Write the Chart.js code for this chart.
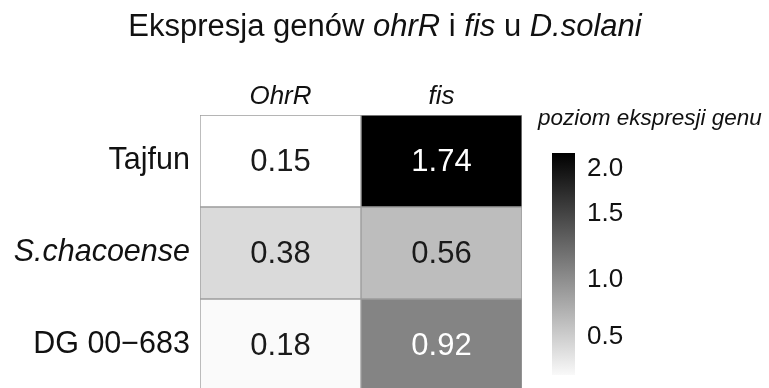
<!DOCTYPE html>
<html>
<head>
<meta charset="utf-8">
<script src="https://cdn.jsdelivr.net/npm/chart.js@4/dist/chart.umd.min.js"></script>
<style>
  html, body { margin: 0; padding: 0; background: #fff; overflow: hidden; }
  #wrap { width: 769px; height: 396px; position: relative; }
</style>
</head>
<body>
<div id="wrap"><canvas id="c"></canvas></div>
<script>
// Heatmap rows (strains) and columns (genes)
const rows = ['Tajfun', 'S.chacoense', 'DG 00\u2212683'];
const genes = ['OhrR', 'fis'];
// Expression level of each gene per strain
const ohrRValues = [0.15, 0.38, 0.18];
const fisValues = [1.74, 0.56, 0.92];
// Colour-bar labels
const legendTicks = [2.0, 1.5, 1.0, 0.5];

const FONT = "'Liberation Sans', Arial, Helvetica, sans-serif";
const LOW = 0.15, HIGH = 1.74;

function grey(v) {
  let t = (v - LOW) / (HIGH - LOW);
  t = Math.max(0, Math.min(1, t));
  const g = Math.round(255 * (1 - t));
  return `rgb(${g},${g},${g})`;
}

const columns = [ohrRValues, fisValues];
const datasets = genes.map((g, j) => ({
  label: g,
  values: columns[j],
  data: rows.map(() => [j, j + 1]),
  backgroundColor: columns[j].map(grey),
  borderColor: '#9c9c9c',
  borderWidth: 1,
  borderSkipped: false,
  barPercentage: 1,
  categoryPercentage: 1,
  grouped: false
}));

// Title with mixed upright / italic runs
const titleRuns = [
  ['Ekspresja genów ', 'normal'], ['ohrR', 'italic'], [' i ', 'normal'],
  ['fis', 'italic'], [' u ', 'normal'], ['D.solani', 'italic']
];

const decorations = {
  id: 'decorations',
  afterDatasetsDraw(chart) {
    const ctx = chart.ctx;
    ctx.save();
    // values inside the cells
    chart.data.datasets.forEach((ds, di) => {
      const meta = chart.getDatasetMeta(di);
      meta.data.forEach((el, i) => {
        const v = ds.values[i];
        ctx.font = `31px ${FONT}`;
        ctx.fillStyle = v > 0.8 ? '#ffffff' : '#1a1a1a';
        ctx.textAlign = 'center';
        ctx.textBaseline = 'middle';
        ctx.fillText(v.toFixed(2), (el.x + el.base) / 2, el.y + 1);
      });
    });
    ctx.restore();
  },
  afterDraw(chart) {
    const ctx = chart.ctx;
    ctx.save();
    // title
    const size = 31;
    let total = 0;
    titleRuns.forEach(([t, s]) => {
      ctx.font = `${s} ${size}px ${FONT}`;
      total += ctx.measureText(t).width;
    });
    let x = 385 - total / 2;
    ctx.fillStyle = '#111';
    ctx.textBaseline = 'alphabetic';
    ctx.textAlign = 'left';
    titleRuns.forEach(([t, s]) => {
      ctx.font = `${s} ${size}px ${FONT}`;
      ctx.fillText(t, x, 36);
      x += ctx.measureText(t).width;
    });

    // colour bar
    const area = chart.chartArea;
    const bx = area.right + 30, bw = 23, top = 153, bottom = 375;
    ctx.font = `italic 22.5px ${FONT}`;
    ctx.fillStyle = '#111';
    ctx.fillText('poziom ekspresji genu', area.right + 16, 125);
    const grad = ctx.createLinearGradient(0, top, 0, bottom);
    grad.addColorStop(0, '#000000');
    grad.addColorStop(1, '#f9f9f9');
    ctx.fillStyle = grad;
    ctx.fillRect(bx, top, bw, bottom - top);
    const labelY = { '2.0': 168, '1.5': 213, '1.0': 279, '0.5': 336 };
    ctx.font = `26px ${FONT}`;
    ctx.fillStyle = '#111';
    ctx.textBaseline = 'middle';
    legendTicks.forEach(v => {
      const k = v.toFixed(1);
      ctx.fillText(k, bx + bw + 12, labelY[k] + 1);
    });
    ctx.restore();
  }
};

new Chart(document.getElementById('c'), {
  type: 'bar',
  data: { labels: rows, datasets },
  options: {
    indexAxis: 'y',
    responsive: true,
    maintainAspectRatio: false,
    animation: false,
    layout: { padding: { top: 60, right: 247, bottom: 5, left: 0 } },
    plugins: { legend: { display: false }, tooltip: { enabled: false }, title: { display: false } },
    scales: {
      y: {
        type: 'category',
        grid: { display: false, drawTicks: false },
        border: { display: false },
        afterFit(scale) {
          scale.width = 200;
          scale.paddingTop = 0;
          scale.paddingBottom = 0;
        },
        ticks: {
          padding: 10,
          color: '#111',
          font: (c) => ({ family: FONT, size: 30.5, style: c.index === 1 ? 'italic' : 'normal' })
        }
      },
      x: {
        type: 'linear',
        position: 'top',
        min: 0,
        max: genes.length,
        grid: { display: false, drawTicks: false },
        border: { display: false },
        afterFit(scale) {
          scale.height = 55;
          scale.paddingLeft = 0;
          scale.paddingRight = 0;
        },
        afterBuildTicks(scale) { scale.ticks = genes.map((g, j) => ({ value: j + 0.5 })); },
        ticks: {
          padding: 3,
          color: '#111',
          autoSkip: false,
          maxRotation: 0,
          font: { family: FONT, size: 26, style: 'italic' },
          callback: (v) => genes[Math.floor(v)]
        }
      }
    }
  },
  plugins: [decorations]
});
</script>
</body>
</html>
